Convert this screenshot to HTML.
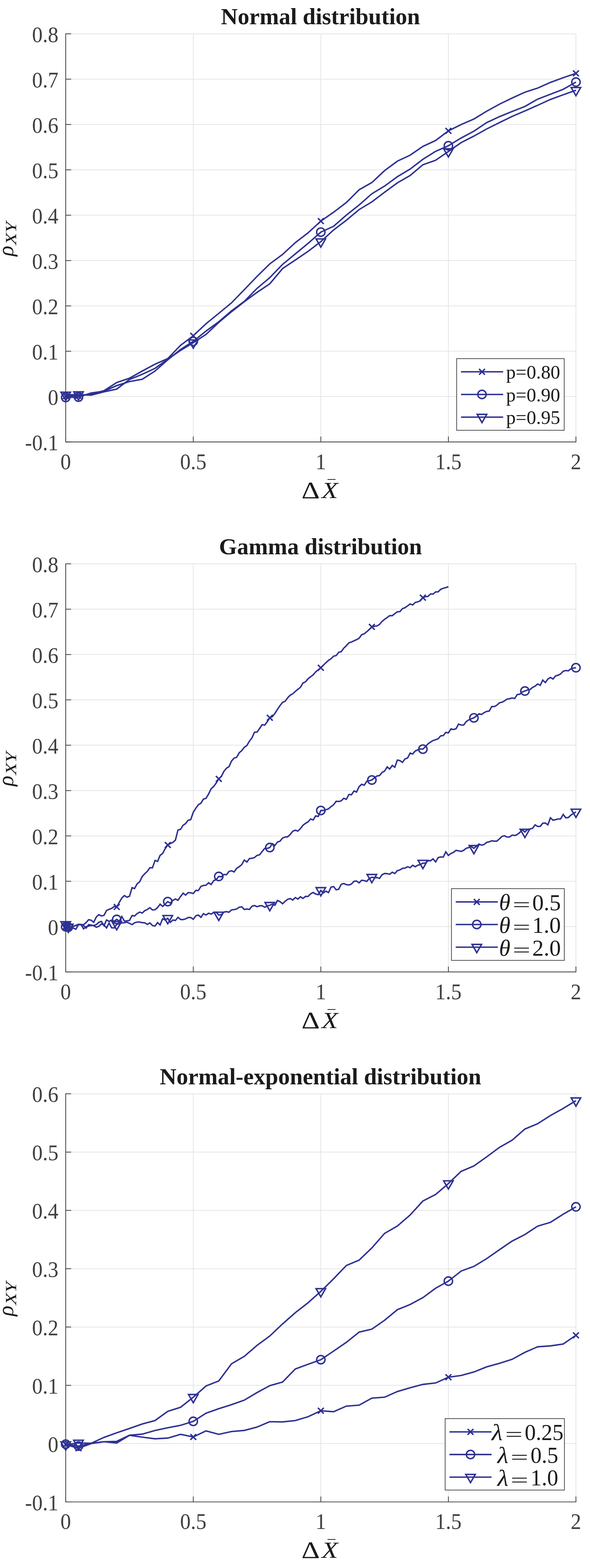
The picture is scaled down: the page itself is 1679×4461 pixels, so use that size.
<!DOCTYPE html>
<html lang="en"><head><meta charset="utf-8"><title>Correlation plots</title>
<style>
html,body{margin:0;padding:0;background:#fff}
body{width:1679px;height:4461px;overflow:hidden}
svg{display:block}
text{font-family:"Liberation Serif", "DejaVu Serif", serif}
.grid line{stroke:#e3e3e3;stroke-width:2}
.ax line,.ax path{stroke:#3f3f3f;stroke-width:2.2;fill:none}
.tick text{font-size:60px;fill:#404040}
.title{font-size:66px;font-weight:bold;fill:#1c1a1b}
.lab text{fill:#1c1a1b;font-size:62px}
.it{font-style:italic}
.leg text{font-size:54px;fill:#1c1a1b}
.leg.tex text{font-size:62px}
.crv polyline,.crv path,.crv circle,.crv line{stroke:#2e3192;stroke-width:4.1;fill:none;stroke-linejoin:miter;stroke-linecap:butt}
</style></head><body>
<svg width="1679" height="4461" viewBox="0 0 1679 4461">
<rect width="1679" height="4461" fill="#fff"/>
<g class="grid">
<line x1="187.0" y1="96.2" x2="187.0" y2="1257.3"/>
<line x1="550.0" y1="96.2" x2="550.0" y2="1257.3"/>
<line x1="913.0" y1="96.2" x2="913.0" y2="1257.3"/>
<line x1="1276.0" y1="96.2" x2="1276.0" y2="1257.3"/>
<line x1="1639.0" y1="96.2" x2="1639.0" y2="1257.3"/>
<line x1="187.0" y1="1257.3" x2="1639.0" y2="1257.3"/>
<line x1="187.0" y1="1128.3" x2="1639.0" y2="1128.3"/>
<line x1="187.0" y1="999.3" x2="1639.0" y2="999.3"/>
<line x1="187.0" y1="870.3" x2="1639.0" y2="870.3"/>
<line x1="187.0" y1="741.3" x2="1639.0" y2="741.3"/>
<line x1="187.0" y1="612.2" x2="1639.0" y2="612.2"/>
<line x1="187.0" y1="483.2" x2="1639.0" y2="483.2"/>
<line x1="187.0" y1="354.2" x2="1639.0" y2="354.2"/>
<line x1="187.0" y1="225.2" x2="1639.0" y2="225.2"/>
<line x1="187.0" y1="96.2" x2="1639.0" y2="96.2"/>
</g>
<g class="ax">
<path d="M187.0 95.1V1258.4M185.9 1257.3H1640.1"/>
<line x1="187.0" y1="1257.3" x2="187.0" y2="1241.9"/>
<line x1="550.0" y1="1257.3" x2="550.0" y2="1241.9"/>
<line x1="913.0" y1="1257.3" x2="913.0" y2="1241.9"/>
<line x1="1276.0" y1="1257.3" x2="1276.0" y2="1241.9"/>
<line x1="1639.0" y1="1257.3" x2="1639.0" y2="1241.9"/>
<line x1="187.0" y1="1257.3" x2="202.4" y2="1257.3"/>
<line x1="187.0" y1="1128.3" x2="202.4" y2="1128.3"/>
<line x1="187.0" y1="999.3" x2="202.4" y2="999.3"/>
<line x1="187.0" y1="870.3" x2="202.4" y2="870.3"/>
<line x1="187.0" y1="741.3" x2="202.4" y2="741.3"/>
<line x1="187.0" y1="612.2" x2="202.4" y2="612.2"/>
<line x1="187.0" y1="483.2" x2="202.4" y2="483.2"/>
<line x1="187.0" y1="354.2" x2="202.4" y2="354.2"/>
<line x1="187.0" y1="225.2" x2="202.4" y2="225.2"/>
<line x1="187.0" y1="96.2" x2="202.4" y2="96.2"/>
</g>
<g class="crv">
<polyline points="187.0,1127.0 223.3,1126.0 259.6,1121.5 295.9,1111.5 332.2,1088.3 368.5,1076.0 404.8,1055.6 441.1,1036.1 477.4,1020.2 513.7,982.5 550.0,955.3 586.3,921.0 622.6,891.5 658.9,861.6 695.2,824.1 731.5,786.4 767.8,750.7 804.1,723.9 840.4,690.3 876.7,662.5 913.0,629.1 949.3,603.8 985.6,576.1 1021.9,540.0 1058.2,519.4 1094.5,485.4 1130.8,458.5 1167.1,441.5 1203.4,416.6 1239.7,399.7 1276.0,372.3 1312.3,354.3 1348.6,338.6 1384.9,316.5 1421.2,296.5 1457.5,278.8 1493.8,262.3 1530.1,250.6 1566.4,234.5 1602.7,221.1 1639.0,208.8"/>
<polyline points="187.0,1130.8 223.3,1129.8 259.6,1118.1 295.9,1113.0 332.2,1097.0 368.5,1085.5 404.8,1079.0 441.1,1055.7 477.4,1023.7 513.7,994.4 550.0,971.1 586.3,942.0 622.6,915.3 658.9,884.3 695.2,857.5 731.5,820.4 767.8,789.9 804.1,752.2 840.4,722.3 876.7,692.4 913.0,660.4 949.3,643.8 985.6,612.2 1021.9,583.3 1058.2,551.3 1094.5,529.3 1130.8,502.8 1167.1,481.1 1203.4,453.3 1239.7,430.6 1276.0,414.7 1312.3,392.6 1348.6,373.2 1384.9,348.9 1421.2,332.0 1457.5,317.1 1493.8,302.8 1530.1,282.0 1566.4,268.1 1602.7,254.1 1639.0,233.5"/>
<polyline points="187.0,1123.5 223.3,1122.5 259.6,1124.3 295.9,1114.7 332.2,1107.0 368.5,1079.5 404.8,1064.8 441.1,1048.0 477.4,1022.0 513.7,996.9 550.0,975.0 586.3,951.5 622.6,917.3 658.9,886.8 695.2,858.3 731.5,831.8 767.8,807.4 804.1,764.1 840.4,739.8 876.7,715.1 913.0,687.5 949.3,654.3 985.6,626.6 1021.9,596.3 1058.2,574.4 1094.5,546.8 1130.8,520.3 1167.1,499.3 1203.4,468.8 1239.7,456.0 1276.0,431.0 1312.3,405.7 1348.6,387.2 1384.9,367.0 1421.2,348.9 1457.5,331.1 1493.8,315.7 1530.1,299.5 1566.4,283.0 1602.7,269.6 1639.0,256.8"/>
<path d="M178.7 1118.7L195.3 1135.3M178.7 1135.3L195.3 1118.7"/>
<path d="M215.0 1117.7L231.6 1134.3M215.0 1134.3L231.6 1117.7"/>
<path d="M541.7 947.0L558.3 963.6M541.7 963.6L558.3 947.0"/>
<path d="M904.7 620.8L921.3 637.4M904.7 637.4L921.3 620.8"/>
<path d="M1267.7 364.0L1284.3 380.6M1267.7 380.6L1284.3 364.0"/>
<path d="M1630.7 200.5L1647.3 217.1M1630.7 217.1L1647.3 200.5"/>
<circle cx="187.0" cy="1130.8" r="11.9"/>
<circle cx="223.3" cy="1129.8" r="11.9"/>
<circle cx="550.0" cy="971.1" r="11.9"/>
<circle cx="913.0" cy="660.4" r="11.9"/>
<circle cx="1276.0" cy="414.7" r="11.9"/>
<circle cx="1639.0" cy="233.5" r="11.9"/>
<path d="M173.4 1115.7L200.6 1115.7L187.0 1139.2Z"/>
<path d="M209.8 1114.7L236.9 1114.7L223.3 1138.2Z"/>
<path d="M536.5 967.2L563.5 967.2L550.0 990.7Z"/>
<path d="M899.5 679.7L926.5 679.7L913.0 703.2Z"/>
<path d="M1262.5 423.2L1289.5 423.2L1276.0 446.7Z"/>
<path d="M1625.5 249.0L1652.5 249.0L1639.0 272.5Z"/>
</g>
<g class="tick">
<text transform="translate(187.0 1334.6) scale(1 1.04)" text-anchor="middle">0</text>
<text transform="translate(550.0 1334.6) scale(1 1.04)" text-anchor="middle">0.5</text>
<text transform="translate(913.0 1334.6) scale(1 1.04)" text-anchor="middle">1</text>
<text transform="translate(1276.0 1334.6) scale(1 1.04)" text-anchor="middle">1.5</text>
<text transform="translate(1639.0 1334.6) scale(1 1.04)" text-anchor="middle">2</text>
<text transform="translate(166.2 1280.8) scale(1 1.04)" text-anchor="end">-0.1</text>
<text transform="translate(166.2 1151.8) scale(1 1.04)" text-anchor="end">0</text>
<text transform="translate(166.2 1022.8) scale(1 1.04)" text-anchor="end">0.1</text>
<text transform="translate(166.2 893.8) scale(1 1.04)" text-anchor="end">0.2</text>
<text transform="translate(166.2 764.8) scale(1 1.04)" text-anchor="end">0.3</text>
<text transform="translate(166.2 635.7) scale(1 1.04)" text-anchor="end">0.4</text>
<text transform="translate(166.2 506.7) scale(1 1.04)" text-anchor="end">0.5</text>
<text transform="translate(166.2 377.7) scale(1 1.04)" text-anchor="end">0.6</text>
<text transform="translate(166.2 248.7) scale(1 1.04)" text-anchor="end">0.7</text>
<text transform="translate(166.2 119.7) scale(1 1.04)" text-anchor="end">0.8</text>
</g>
<text class="title" x="912.0" y="68.9" text-anchor="middle">Normal distribution</text>
<g class="lab">
<text transform="translate(858.06 1416.60) scale(1.3050 1.1073)">Δ</text>
<text transform="translate(915.45 1416.60) scale(1.2263 1.0642)" class="it">X</text>
<line x1="932" y1="1364.1" x2="954.8" y2="1364.1" stroke="#1c1a1b" stroke-width="2.1"/>
<text transform="translate(36.60 728.89) rotate(-90) scale(1.0068 0.9964)" class="it">ρ</text>
<text transform="translate(46.10 696.97) rotate(-90) scale(0.9154 0.7185)" class="it">XY</text>
</g>
<rect x="1299.5" y="1020.3" width="306.1" height="203.9" fill="#fff" stroke="#3f3f3f" stroke-width="2"/>
<g class="crv">
<line x1="1311.9" y1="1057.8" x2="1431.9" y2="1057.8"/>
<path d="M1363.3 1049.5L1379.9 1066.1M1363.3 1066.1L1379.9 1049.5"/>
<line x1="1311.9" y1="1122.2" x2="1431.9" y2="1122.2"/>
<circle cx="1371.6" cy="1122.2" r="11.9"/>
<line x1="1311.9" y1="1186.7" x2="1431.9" y2="1186.7"/>
<path d="M1358.0 1178.9L1385.1 1178.9L1371.6 1202.4Z"/>
</g>
<g class="leg">
<text transform="translate(1440.3 1077.4) scale(1.012 1.035)">p=0.80</text>
<text transform="translate(1440.3 1141.8) scale(1.012 1.035)">p=0.90</text>
<text transform="translate(1440.3 1206.3) scale(1.012 1.035)">p=0.95</text>
</g>
<g class="grid">
<line x1="187.0" y1="1604.1" x2="187.0" y2="2765.2"/>
<line x1="550.0" y1="1604.1" x2="550.0" y2="2765.2"/>
<line x1="913.0" y1="1604.1" x2="913.0" y2="2765.2"/>
<line x1="1276.0" y1="1604.1" x2="1276.0" y2="2765.2"/>
<line x1="1639.0" y1="1604.1" x2="1639.0" y2="2765.2"/>
<line x1="187.0" y1="2765.2" x2="1639.0" y2="2765.2"/>
<line x1="187.0" y1="2636.2" x2="1639.0" y2="2636.2"/>
<line x1="187.0" y1="2507.2" x2="1639.0" y2="2507.2"/>
<line x1="187.0" y1="2378.2" x2="1639.0" y2="2378.2"/>
<line x1="187.0" y1="2249.2" x2="1639.0" y2="2249.2"/>
<line x1="187.0" y1="2120.1" x2="1639.0" y2="2120.1"/>
<line x1="187.0" y1="1991.1" x2="1639.0" y2="1991.1"/>
<line x1="187.0" y1="1862.1" x2="1639.0" y2="1862.1"/>
<line x1="187.0" y1="1733.1" x2="1639.0" y2="1733.1"/>
<line x1="187.0" y1="1604.1" x2="1639.0" y2="1604.1"/>
</g>
<g class="ax">
<path d="M187.0 1603.0V2766.3M185.9 2765.2H1640.1"/>
<line x1="187.0" y1="2765.2" x2="187.0" y2="2749.8"/>
<line x1="550.0" y1="2765.2" x2="550.0" y2="2749.8"/>
<line x1="913.0" y1="2765.2" x2="913.0" y2="2749.8"/>
<line x1="1276.0" y1="2765.2" x2="1276.0" y2="2749.8"/>
<line x1="1639.0" y1="2765.2" x2="1639.0" y2="2749.8"/>
<line x1="187.0" y1="2765.2" x2="202.4" y2="2765.2"/>
<line x1="187.0" y1="2636.2" x2="202.4" y2="2636.2"/>
<line x1="187.0" y1="2507.2" x2="202.4" y2="2507.2"/>
<line x1="187.0" y1="2378.2" x2="202.4" y2="2378.2"/>
<line x1="187.0" y1="2249.2" x2="202.4" y2="2249.2"/>
<line x1="187.0" y1="2120.1" x2="202.4" y2="2120.1"/>
<line x1="187.0" y1="1991.1" x2="202.4" y2="1991.1"/>
<line x1="187.0" y1="1862.1" x2="202.4" y2="1862.1"/>
<line x1="187.0" y1="1733.1" x2="202.4" y2="1733.1"/>
<line x1="187.0" y1="1604.1" x2="202.4" y2="1604.1"/>
</g>
<g class="crv">
<polyline points="187.0,2636.2 194.3,2637.2 201.5,2637.9 208.8,2635.1 216.0,2632.6 223.3,2629.5 230.6,2630.3 237.8,2630.7 245.1,2624.9 252.3,2616.5 259.6,2618.1 266.9,2623.9 274.1,2608.7 281.4,2602.3 288.6,2605.9 295.9,2604.2 303.2,2590.5 310.4,2587.2 317.7,2584.4 324.9,2579.0 332.2,2580.3 339.5,2567.2 346.7,2554.8 354.0,2547.9 361.2,2552.4 368.5,2549.9 375.8,2525.5 383.0,2528.0 390.3,2514.4 397.5,2508.7 404.8,2493.5 412.1,2485.6 419.3,2479.0 426.6,2468.6 433.8,2469.1 441.1,2448.1 448.4,2450.6 455.6,2433.6 462.9,2427.8 470.1,2414.6 477.4,2404.0 484.7,2400.0 491.9,2396.7 499.2,2390.1 506.4,2361.6 513.7,2359.6 521.0,2348.0 528.2,2343.1 535.5,2333.5 542.7,2331.9 550.0,2310.9 557.3,2299.4 564.5,2289.5 571.8,2284.9 579.0,2273.5 586.3,2271.3 593.6,2259.0 600.8,2244.1 608.1,2237.5 615.3,2227.6 622.6,2216.0 629.9,2209.1 637.1,2194.5 644.4,2185.5 651.6,2181.3 658.9,2165.2 666.2,2156.9 673.4,2154.6 680.7,2141.8 687.9,2135.5 695.2,2126.1 702.5,2121.1 709.7,2108.8 717.0,2099.2 724.2,2083.2 731.5,2082.7 738.8,2072.5 746.0,2061.8 753.3,2063.1 760.5,2053.5 767.8,2042.0 775.1,2038.8 782.3,2029.7 789.6,2018.1 796.8,2007.4 804.1,1998.4 811.4,1995.1 818.6,1985.2 825.9,1977.7 833.1,1973.9 840.4,1967.0 847.7,1961.2 854.9,1955.5 862.2,1943.1 869.4,1939.8 876.7,1931.1 884.0,1925.4 891.2,1920.0 898.5,1911.3 905.7,1905.6 913.0,1899.8 920.3,1892.4 927.5,1885.4 934.8,1878.7 942.0,1874.2 949.3,1866.8 956.6,1865.2 963.8,1856.1 971.1,1853.9 978.3,1844.0 985.6,1837.1 992.9,1828.9 1000.1,1826.7 1007.4,1823.1 1014.6,1819.8 1021.9,1816.0 1029.2,1805.8 1036.4,1803.3 1043.7,1797.2 1050.9,1790.9 1058.2,1783.5 1065.5,1781.7 1072.7,1780.8 1080.0,1776.5 1087.2,1768.0 1094.5,1761.9 1101.8,1756.9 1109.0,1751.6 1116.3,1751.6 1123.5,1745.8 1130.8,1740.5 1138.1,1740.0 1145.3,1731.5 1152.6,1728.8 1159.8,1723.9 1167.1,1718.4 1174.4,1721.2 1181.6,1714.0 1188.9,1712.3 1196.1,1709.4 1203.4,1700.3 1210.7,1697.4 1217.9,1696.7 1225.2,1689.8 1232.4,1690.2 1239.7,1684.0 1247.0,1683.7 1254.2,1676.5 1261.5,1673.6 1268.7,1671.7 1276.0,1669.3"/>
<polyline points="187.0,2636.7 194.3,2637.9 201.5,2637.1 208.8,2635.5 216.0,2633.0 223.3,2630.1 230.6,2630.1 237.8,2642.5 245.1,2636.3 252.3,2634.6 259.6,2633.0 266.9,2633.0 274.1,2630.4 281.4,2623.7 288.6,2621.4 295.9,2633.3 303.2,2617.3 310.4,2621.4 317.7,2617.8 324.9,2620.9 332.2,2615.8 339.5,2620.9 346.7,2607.6 354.0,2620.6 361.2,2619.7 368.5,2618.7 375.8,2604.7 383.0,2606.0 390.3,2599.1 397.5,2594.9 404.8,2597.7 412.1,2590.8 419.3,2587.5 426.6,2582.4 433.8,2588.7 441.1,2588.2 448.4,2582.1 455.6,2572.2 462.9,2578.8 470.1,2572.2 477.4,2565.1 484.7,2569.4 491.9,2561.7 499.2,2557.5 506.4,2561.4 513.7,2550.7 521.0,2541.2 528.2,2546.6 535.5,2539.5 542.7,2540.3 550.0,2542.0 557.3,2533.1 564.5,2533.7 571.8,2521.9 579.0,2519.1 586.3,2518.6 593.6,2511.5 600.8,2516.6 608.1,2505.4 615.3,2502.6 622.6,2493.5 629.9,2494.6 637.1,2488.0 644.4,2488.7 651.6,2479.3 658.9,2477.3 666.2,2480.6 673.4,2470.7 680.7,2465.8 687.9,2460.0 695.2,2446.8 702.5,2452.6 709.7,2442.7 717.0,2441.9 724.2,2439.7 731.5,2433.6 738.8,2432.0 746.0,2422.6 753.3,2413.8 760.5,2413.8 767.8,2411.3 775.1,2400.1 782.3,2405.6 789.6,2395.6 796.8,2393.2 804.1,2384.2 811.4,2381.4 818.6,2380.9 825.9,2374.0 833.1,2364.9 840.4,2362.0 847.7,2364.5 854.9,2357.5 862.2,2348.0 869.4,2342.4 876.7,2338.1 884.0,2330.0 891.2,2332.8 898.5,2321.2 905.7,2322.9 913.0,2305.9 920.3,2305.9 927.5,2303.6 934.8,2301.1 942.0,2294.9 949.3,2289.6 956.6,2279.7 963.8,2280.2 971.1,2278.4 978.3,2271.1 985.6,2274.2 992.9,2260.4 1000.1,2261.1 1007.4,2250.3 1014.6,2253.3 1021.9,2238.0 1029.2,2231.4 1036.4,2234.0 1043.7,2222.8 1050.9,2221.1 1058.2,2219.2 1065.5,2213.2 1072.7,2207.6 1080.0,2206.6 1087.2,2197.7 1094.5,2193.8 1101.8,2181.9 1109.0,2187.9 1116.3,2177.7 1123.5,2182.7 1130.8,2162.4 1138.1,2164.0 1145.3,2169.0 1152.6,2159.1 1159.8,2156.6 1167.1,2142.6 1174.4,2145.1 1181.6,2136.8 1188.9,2133.5 1196.1,2130.5 1203.4,2131.4 1210.7,2124.4 1217.9,2116.2 1225.2,2111.2 1232.4,2106.8 1239.7,2104.6 1247.0,2101.5 1254.2,2093.5 1261.5,2092.7 1268.7,2083.6 1276.0,2085.2 1283.3,2073.7 1290.5,2075.7 1297.8,2073.2 1305.0,2060.0 1312.3,2062.8 1319.6,2062.8 1326.8,2052.9 1334.1,2048.0 1341.3,2044.8 1348.6,2042.4 1355.9,2036.9 1363.1,2030.8 1370.4,2032.8 1377.6,2027.5 1384.9,2024.0 1392.2,2023.1 1399.4,2010.1 1406.7,2010.2 1413.9,2006.4 1421.2,1999.5 1428.5,1997.8 1435.7,1994.0 1443.0,1989.1 1450.2,1987.8 1457.5,1985.8 1464.8,1987.1 1472.0,1975.9 1479.3,1975.1 1486.5,1968.5 1493.8,1966.0 1501.1,1962.7 1508.3,1961.9 1515.6,1955.8 1522.8,1952.0 1530.1,1945.9 1537.4,1949.7 1544.6,1934.9 1551.9,1942.0 1559.1,1932.1 1566.4,1927.5 1573.7,1931.8 1580.9,1923.1 1588.2,1921.0 1595.4,1917.4 1602.7,1909.7 1610.0,1907.5 1617.2,1908.7 1624.5,1902.9 1631.7,1900.7 1639.0,1899.7"/>
<polyline points="187.0,2630.0 194.3,2637.2 201.5,2638.8 208.8,2640.4 216.0,2643.7 223.3,2630.5 230.6,2630.9 237.8,2633.0 245.1,2640.4 252.3,2630.5 259.6,2631.8 266.9,2633.8 274.1,2638.1 281.4,2635.4 288.6,2628.7 295.9,2631.2 303.2,2640.0 310.4,2626.1 317.7,2639.5 324.9,2640.0 332.2,2629.8 339.5,2628.1 346.7,2625.8 354.0,2625.2 361.2,2623.6 368.5,2626.8 375.8,2630.7 383.0,2625.4 390.3,2623.3 397.5,2623.3 404.8,2624.9 412.1,2625.4 419.3,2629.9 426.6,2625.8 433.8,2633.2 441.1,2634.5 448.4,2624.9 455.6,2631.5 462.9,2613.9 470.1,2617.5 477.4,2612.6 484.7,2624.1 491.9,2617.4 499.2,2618.8 506.4,2609.8 513.7,2615.9 521.0,2616.4 528.2,2614.2 535.5,2610.4 542.7,2610.4 550.0,2615.4 557.3,2605.5 564.5,2603.2 571.8,2609.8 579.0,2599.4 586.3,2603.2 593.6,2598.2 600.8,2600.5 608.1,2596.1 615.3,2595.3 622.6,2603.2 629.9,2602.2 637.1,2594.9 644.4,2593.7 651.6,2595.3 658.9,2588.7 666.2,2587.8 673.4,2586.2 680.7,2580.9 687.9,2579.9 695.2,2587.5 702.5,2586.2 709.7,2587.3 717.0,2578.4 724.2,2576.3 731.5,2579.6 738.8,2577.1 746.0,2576.8 753.3,2581.2 760.5,2577.1 767.8,2575.5 775.1,2572.2 782.3,2575.5 789.6,2561.8 796.8,2565.1 804.1,2571.2 811.4,2564.2 818.6,2558.5 825.9,2556.5 833.1,2560.6 840.4,2553.5 847.7,2558.0 854.9,2551.4 862.2,2556.0 869.4,2550.2 876.7,2550.5 884.0,2542.8 891.2,2539.2 898.5,2543.6 905.7,2545.3 913.0,2533.2 920.3,2540.3 927.5,2535.4 934.8,2539.5 942.0,2524.0 949.3,2522.3 956.6,2531.5 963.8,2529.9 971.1,2515.9 978.3,2513.7 985.6,2516.7 992.9,2517.9 1000.1,2515.1 1007.4,2507.3 1014.6,2506.5 1021.9,2511.8 1029.2,2504.3 1036.4,2505.2 1043.7,2507.6 1050.9,2499.4 1058.2,2495.8 1065.5,2496.9 1072.7,2496.6 1080.0,2499.1 1087.2,2488.7 1094.5,2485.1 1101.8,2485.5 1109.0,2487.3 1116.3,2481.5 1123.5,2485.3 1130.8,2477.1 1138.1,2474.9 1145.3,2470.5 1152.6,2469.7 1159.8,2465.9 1167.1,2468.4 1174.4,2461.8 1181.6,2465.9 1188.9,2461.4 1196.1,2460.1 1203.4,2455.6 1210.7,2455.2 1217.9,2448.6 1225.2,2448.9 1232.4,2443.6 1239.7,2452.3 1247.0,2439.8 1254.2,2438.1 1261.5,2438.5 1268.7,2423.6 1276.0,2433.7 1283.3,2428.2 1290.5,2424.9 1297.8,2419.2 1305.0,2420.8 1312.3,2422.1 1319.6,2419.2 1326.8,2413.4 1334.1,2411.3 1341.3,2408.5 1348.6,2413.4 1355.9,2407.6 1363.1,2401.4 1370.4,2404.7 1377.6,2402.7 1384.9,2396.4 1392.2,2395.0 1399.4,2392.2 1406.7,2393.1 1413.9,2393.1 1421.2,2386.8 1428.5,2379.6 1435.7,2377.8 1443.0,2381.5 1450.2,2381.2 1457.5,2375.8 1464.8,2377.1 1472.0,2374.1 1479.3,2368.4 1486.5,2360.9 1493.8,2367.2 1501.1,2360.1 1508.3,2358.5 1515.6,2356.5 1522.8,2346.8 1530.1,2351.2 1537.4,2351.1 1544.6,2341.9 1551.9,2341.4 1559.1,2346.7 1566.4,2326.7 1573.7,2333.6 1580.9,2332.0 1588.2,2330.0 1595.4,2329.8 1602.7,2317.2 1610.0,2326.5 1617.2,2325.9 1624.5,2319.2 1631.7,2314.4 1639.0,2310.0"/>
<path d="M178.7 2627.9L195.3 2644.5M178.7 2644.5L195.3 2627.9"/>
<path d="M186.0 2628.9L202.6 2645.5M186.0 2645.5L202.6 2628.9"/>
<path d="M323.9 2572.0L340.5 2588.6M323.9 2588.6L340.5 2572.0"/>
<path d="M469.1 2395.7L485.7 2412.3M469.1 2412.3L485.7 2395.7"/>
<path d="M614.3 2207.7L630.9 2224.3M614.3 2224.3L630.9 2207.7"/>
<path d="M759.5 2033.7L776.1 2050.3M759.5 2050.3L776.1 2033.7"/>
<path d="M904.7 1891.5L921.3 1908.1M904.7 1908.1L921.3 1891.5"/>
<path d="M1049.9 1775.2L1066.5 1791.8M1049.9 1791.8L1066.5 1775.2"/>
<path d="M1195.1 1692.0L1211.7 1708.6M1195.1 1708.6L1211.7 1692.0"/>
<circle cx="187.0" cy="2636.7" r="11.9"/>
<circle cx="194.3" cy="2637.9" r="11.9"/>
<circle cx="332.2" cy="2615.8" r="11.9"/>
<circle cx="477.4" cy="2565.1" r="11.9"/>
<circle cx="622.6" cy="2493.5" r="11.9"/>
<circle cx="767.8" cy="2411.3" r="11.9"/>
<circle cx="913.0" cy="2305.9" r="11.9"/>
<circle cx="1058.2" cy="2219.2" r="11.9"/>
<circle cx="1203.4" cy="2131.4" r="11.9"/>
<circle cx="1348.6" cy="2042.4" r="11.9"/>
<circle cx="1493.8" cy="1966.0" r="11.9"/>
<circle cx="1639.0" cy="1899.7" r="11.9"/>
<path d="M173.4 2622.2L200.6 2622.2L187.0 2645.7Z"/>
<path d="M180.7 2629.4L207.8 2629.4L194.3 2652.9Z"/>
<path d="M318.6 2622.0L345.8 2622.0L332.2 2645.5Z"/>
<path d="M463.8 2604.7L490.9 2604.7L477.4 2628.2Z"/>
<path d="M609.0 2595.3L636.1 2595.3L622.6 2618.8Z"/>
<path d="M754.2 2567.6L781.3 2567.6L767.8 2591.1Z"/>
<path d="M899.5 2525.4L926.5 2525.4L913.0 2548.9Z"/>
<path d="M1044.6 2487.9L1071.7 2487.9L1058.2 2511.4Z"/>
<path d="M1189.9 2447.8L1217.0 2447.8L1203.4 2471.3Z"/>
<path d="M1335.0 2405.6L1362.1 2405.6L1348.6 2429.1Z"/>
<path d="M1480.2 2359.4L1507.3 2359.4L1493.8 2382.9Z"/>
<path d="M1625.5 2302.2L1652.5 2302.2L1639.0 2325.7Z"/>
</g>
<g class="tick">
<text transform="translate(187.0 2842.5) scale(1 1.04)" text-anchor="middle">0</text>
<text transform="translate(550.0 2842.5) scale(1 1.04)" text-anchor="middle">0.5</text>
<text transform="translate(913.0 2842.5) scale(1 1.04)" text-anchor="middle">1</text>
<text transform="translate(1276.0 2842.5) scale(1 1.04)" text-anchor="middle">1.5</text>
<text transform="translate(1639.0 2842.5) scale(1 1.04)" text-anchor="middle">2</text>
<text transform="translate(166.2 2788.7) scale(1 1.04)" text-anchor="end">-0.1</text>
<text transform="translate(166.2 2659.7) scale(1 1.04)" text-anchor="end">0</text>
<text transform="translate(166.2 2530.7) scale(1 1.04)" text-anchor="end">0.1</text>
<text transform="translate(166.2 2401.7) scale(1 1.04)" text-anchor="end">0.2</text>
<text transform="translate(166.2 2272.7) scale(1 1.04)" text-anchor="end">0.3</text>
<text transform="translate(166.2 2143.6) scale(1 1.04)" text-anchor="end">0.4</text>
<text transform="translate(166.2 2014.6) scale(1 1.04)" text-anchor="end">0.5</text>
<text transform="translate(166.2 1885.6) scale(1 1.04)" text-anchor="end">0.6</text>
<text transform="translate(166.2 1756.6) scale(1 1.04)" text-anchor="end">0.7</text>
<text transform="translate(166.2 1627.6) scale(1 1.04)" text-anchor="end">0.8</text>
</g>
<text class="title" x="912.0" y="1576.8" text-anchor="middle">Gamma distribution</text>
<g class="lab">
<text transform="translate(858.06 2924.50) scale(1.3050 1.1073)">Δ</text>
<text transform="translate(915.45 2924.50) scale(1.2263 1.0642)" class="it">X</text>
<line x1="932" y1="2872.0" x2="954.8" y2="2872.0" stroke="#1c1a1b" stroke-width="2.1"/>
<text transform="translate(36.60 2236.79) rotate(-90) scale(1.0068 0.9964)" class="it">ρ</text>
<text transform="translate(46.10 2204.87) rotate(-90) scale(0.9154 0.7185)" class="it">XY</text>
</g>
<rect x="1284.7" y="2528.2" width="321.2" height="204.1" fill="#fff" stroke="#3f3f3f" stroke-width="2"/>
<g class="crv">
<line x1="1296.9" y1="2566.0" x2="1416.7" y2="2566.0"/>
<path d="M1348.5 2557.7L1365.1 2574.3M1348.5 2574.3L1365.1 2557.7"/>
<line x1="1296.9" y1="2630.2" x2="1416.7" y2="2630.2"/>
<circle cx="1356.8" cy="2630.2" r="11.9"/>
<line x1="1296.9" y1="2694.7" x2="1416.7" y2="2694.7"/>
<path d="M1343.2 2686.9L1370.3 2686.9L1356.8 2710.4Z"/>
</g>
<g class="leg tex">
<text transform="translate(1420.24 2589.28) scale(1.0538 1.0469)" class="it">θ</text>
<text transform="translate(1458.84 2591.73) scale(1.4517 0.8968)">=</text>
<text transform="translate(1514.84 2589.51) scale(1.0488 1.0500)">0.5</text>
<text transform="translate(1420.24 2653.98) scale(1.0538 1.0469)" class="it">θ</text>
<text transform="translate(1458.84 2656.43) scale(1.4517 0.8968)">=</text>
<text transform="translate(1514.84 2654.21) scale(1.0488 1.0500)">1.0</text>
<text transform="translate(1420.24 2718.58) scale(1.0538 1.0469)" class="it">θ</text>
<text transform="translate(1458.84 2721.03) scale(1.4517 0.8968)">=</text>
<text transform="translate(1514.84 2718.81) scale(1.0488 1.0500)">2.0</text>
</g>
<g class="grid">
<line x1="187.0" y1="3111.9" x2="187.0" y2="4273.0"/>
<line x1="550.0" y1="3111.9" x2="550.0" y2="4273.0"/>
<line x1="913.0" y1="3111.9" x2="913.0" y2="4273.0"/>
<line x1="1276.0" y1="3111.9" x2="1276.0" y2="4273.0"/>
<line x1="1639.0" y1="3111.9" x2="1639.0" y2="4273.0"/>
<line x1="187.0" y1="4273.0" x2="1639.0" y2="4273.0"/>
<line x1="187.0" y1="4107.1" x2="1639.0" y2="4107.1"/>
<line x1="187.0" y1="3941.3" x2="1639.0" y2="3941.3"/>
<line x1="187.0" y1="3775.4" x2="1639.0" y2="3775.4"/>
<line x1="187.0" y1="3609.5" x2="1639.0" y2="3609.5"/>
<line x1="187.0" y1="3443.6" x2="1639.0" y2="3443.6"/>
<line x1="187.0" y1="3277.8" x2="1639.0" y2="3277.8"/>
<line x1="187.0" y1="3111.9" x2="1639.0" y2="3111.9"/>
</g>
<g class="ax">
<path d="M187.0 3110.8V4274.1M185.9 4273.0H1640.1"/>
<line x1="187.0" y1="4273.0" x2="187.0" y2="4257.6"/>
<line x1="550.0" y1="4273.0" x2="550.0" y2="4257.6"/>
<line x1="913.0" y1="4273.0" x2="913.0" y2="4257.6"/>
<line x1="1276.0" y1="4273.0" x2="1276.0" y2="4257.6"/>
<line x1="1639.0" y1="4273.0" x2="1639.0" y2="4257.6"/>
<line x1="187.0" y1="4273.0" x2="202.4" y2="4273.0"/>
<line x1="187.0" y1="4107.1" x2="202.4" y2="4107.1"/>
<line x1="187.0" y1="3941.3" x2="202.4" y2="3941.3"/>
<line x1="187.0" y1="3775.4" x2="202.4" y2="3775.4"/>
<line x1="187.0" y1="3609.5" x2="202.4" y2="3609.5"/>
<line x1="187.0" y1="3443.6" x2="202.4" y2="3443.6"/>
<line x1="187.0" y1="3277.8" x2="202.4" y2="3277.8"/>
<line x1="187.0" y1="3111.9" x2="202.4" y2="3111.9"/>
</g>
<g class="crv">
<polyline points="187.0,4110.0 223.3,4120.3 259.6,4107.0 295.9,4101.8 332.2,4105.3 368.5,4083.5 404.8,4088.8 441.1,4093.4 477.4,4091.4 513.7,4080.7 550.0,4088.2 586.3,4071.0 622.6,4080.7 658.9,4072.7 695.2,4069.6 731.5,4060.1 767.8,4044.7 804.1,4045.4 840.4,4041.5 876.7,4030.6 913.0,4013.6 949.3,4016.3 985.6,4000.4 1021.9,3997.7 1058.2,3977.8 1094.5,3975.1 1130.8,3959.0 1167.1,3948.2 1203.4,3938.6 1239.7,3934.5 1276.0,3918.2 1312.3,3913.2 1348.6,3903.3 1384.9,3888.8 1421.2,3878.7 1457.5,3867.2 1493.8,3847.4 1530.1,3831.6 1566.4,3829.1 1602.7,3823.7 1639.0,3798.9"/>
<polyline points="187.0,4108.8 223.3,4114.2 259.6,4106.0 295.9,4101.8 332.2,4100.7 368.5,4083.2 404.8,4080.1 441.1,4069.7 477.4,4062.1 513.7,4055.1 550.0,4043.8 586.3,4020.6 622.6,4007.7 658.9,3996.3 695.2,3983.4 731.5,3961.9 767.8,3942.2 804.1,3932.0 840.4,3894.8 876.7,3881.3 913.0,3868.4 949.3,3843.9 985.6,3819.0 1021.9,3789.9 1058.2,3781.4 1094.5,3756.1 1130.8,3726.1 1167.1,3711.3 1203.4,3691.8 1239.7,3665.0 1276.0,3644.8 1312.3,3616.2 1348.6,3602.9 1384.9,3580.9 1421.2,3555.5 1457.5,3530.8 1493.8,3512.3 1530.1,3488.3 1566.4,3477.6 1602.7,3454.6 1639.0,3433.5"/>
<polyline points="187.0,4110.0 223.3,4105.3 259.6,4106.0 295.9,4089.5 332.2,4076.4 368.5,4064.0 404.8,4051.2 441.1,4041.5 477.4,4015.4 513.7,4003.8 550.0,3975.2 586.3,3943.1 622.6,3928.8 658.9,3880.0 695.2,3858.7 731.5,3827.6 767.8,3800.9 804.1,3766.6 840.4,3734.6 876.7,3706.3 913.0,3674.0 949.3,3638.2 985.6,3600.4 1021.9,3585.2 1058.2,3550.3 1094.5,3509.0 1130.8,3488.1 1167.1,3456.8 1203.4,3417.0 1239.7,3398.4 1276.0,3367.3 1312.3,3332.6 1348.6,3317.2 1384.9,3291.3 1421.2,3264.4 1457.5,3243.9 1493.8,3212.0 1530.1,3197.0 1566.4,3173.7 1602.7,3153.6 1639.0,3131.4"/>
<path d="M178.7 4101.7L195.3 4118.3M178.7 4118.3L195.3 4101.7"/>
<path d="M215.0 4112.0L231.6 4128.6M215.0 4128.6L231.6 4112.0"/>
<path d="M541.7 4079.9L558.3 4096.5M541.7 4096.5L558.3 4079.9"/>
<path d="M904.7 4005.3L921.3 4021.9M904.7 4021.9L921.3 4005.3"/>
<path d="M1267.7 3909.9L1284.3 3926.5M1267.7 3926.5L1284.3 3909.9"/>
<path d="M1630.7 3790.6L1647.3 3807.2M1630.7 3807.2L1647.3 3790.6"/>
<circle cx="187.0" cy="4108.8" r="11.9"/>
<circle cx="223.3" cy="4114.2" r="11.9"/>
<circle cx="550.0" cy="4043.8" r="11.9"/>
<circle cx="913.0" cy="3868.4" r="11.9"/>
<circle cx="1276.0" cy="3644.8" r="11.9"/>
<circle cx="1639.0" cy="3433.5" r="11.9"/>
<path d="M173.4 4102.2L200.6 4102.2L187.0 4125.7Z"/>
<path d="M209.8 4097.5L236.9 4097.5L223.3 4121.0Z"/>
<path d="M536.5 3967.4L563.5 3967.4L550.0 3990.9Z"/>
<path d="M899.5 3666.2L926.5 3666.2L913.0 3689.7Z"/>
<path d="M1262.5 3359.5L1289.5 3359.5L1276.0 3383.0Z"/>
<path d="M1625.5 3123.6L1652.5 3123.6L1639.0 3147.1Z"/>
</g>
<g class="tick">
<text transform="translate(187.0 4350.3) scale(1 1.04)" text-anchor="middle">0</text>
<text transform="translate(550.0 4350.3) scale(1 1.04)" text-anchor="middle">0.5</text>
<text transform="translate(913.0 4350.3) scale(1 1.04)" text-anchor="middle">1</text>
<text transform="translate(1276.0 4350.3) scale(1 1.04)" text-anchor="middle">1.5</text>
<text transform="translate(1639.0 4350.3) scale(1 1.04)" text-anchor="middle">2</text>
<text transform="translate(166.2 4296.5) scale(1 1.04)" text-anchor="end">-0.1</text>
<text transform="translate(166.2 4130.6) scale(1 1.04)" text-anchor="end">0</text>
<text transform="translate(166.2 3964.8) scale(1 1.04)" text-anchor="end">0.1</text>
<text transform="translate(166.2 3798.9) scale(1 1.04)" text-anchor="end">0.2</text>
<text transform="translate(166.2 3633.0) scale(1 1.04)" text-anchor="end">0.3</text>
<text transform="translate(166.2 3467.1) scale(1 1.04)" text-anchor="end">0.4</text>
<text transform="translate(166.2 3301.3) scale(1 1.04)" text-anchor="end">0.5</text>
<text transform="translate(166.2 3135.4) scale(1 1.04)" text-anchor="end">0.6</text>
</g>
<text class="title" x="912.0" y="3084.6" text-anchor="middle">Normal-exponential distribution</text>
<g class="lab">
<text transform="translate(858.06 4432.30) scale(1.3050 1.1073)">Δ</text>
<text transform="translate(915.45 4432.30) scale(1.2263 1.0642)" class="it">X</text>
<line x1="932" y1="4379.8" x2="954.8" y2="4379.8" stroke="#1c1a1b" stroke-width="2.1"/>
<text transform="translate(36.60 3744.59) rotate(-90) scale(1.0068 0.9964)" class="it">ρ</text>
<text transform="translate(46.10 3712.67) rotate(-90) scale(0.9154 0.7185)" class="it">XY</text>
</g>
<rect x="1266.8" y="4036.0" width="339.4" height="203.3" fill="#fff" stroke="#3f3f3f" stroke-width="2"/>
<g class="crv">
<line x1="1279.2" y1="4073.7" x2="1398.8" y2="4073.7"/>
<path d="M1330.7 4065.4L1347.3 4082.0M1330.7 4082.0L1347.3 4065.4"/>
<line x1="1279.2" y1="4138.1" x2="1398.8" y2="4138.1"/>
<circle cx="1339.0" cy="4138.1" r="11.9"/>
<line x1="1279.2" y1="4202.5" x2="1398.8" y2="4202.5"/>
<path d="M1325.5 4194.7L1352.5 4194.7L1339.0 4218.2Z"/>
</g>
<g class="leg tex">
<text transform="translate(1399.06 4097.40) scale(1.1701 1.0437)" class="it">λ</text>
<text transform="translate(1437.43 4099.43) scale(1.4241 0.8968)">=</text>
<text transform="translate(1493.21 4097.21) scale(1.0159 1.0500)">0.25</text>
<text transform="translate(1415.56 4162.10) scale(1.1701 1.0437)" class="it">λ</text>
<text transform="translate(1453.07 4164.13) scale(1.4448 0.8968)">=</text>
<text transform="translate(1509.71 4161.91) scale(1.0199 1.0500)">0.5</text>
<text transform="translate(1415.56 4226.50) scale(1.1701 1.0437)" class="it">λ</text>
<text transform="translate(1453.07 4228.53) scale(1.4448 0.8968)">=</text>
<text transform="translate(1509.71 4226.31) scale(1.0199 1.0500)">1.0</text>
</g>
</svg></body></html>
